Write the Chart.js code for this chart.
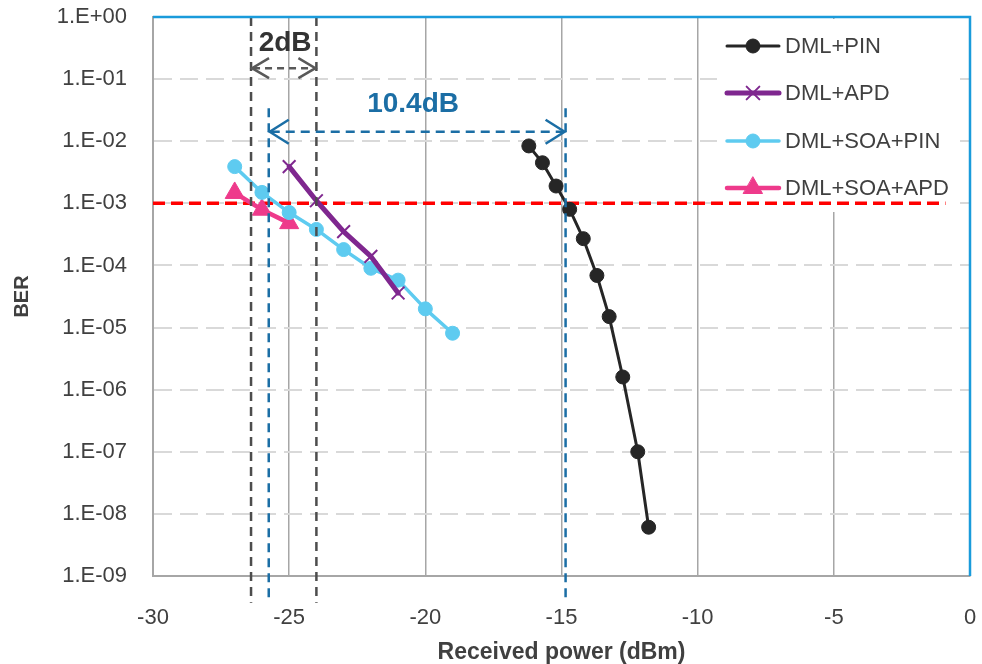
<!DOCTYPE html>
<html>
<head>
<meta charset="utf-8">
<script src="https://cdn.jsdelivr.net/npm/chart.js@4.4.1/dist/chart.umd.min.js"></script>
<style>
  html, body { margin: 0; padding: 0; background: #fff; }
  #wrap { width: 982px; height: 664px; }
</style>
</head>
<body>
<div id="wrap"><canvas id="berChart" width="982" height="664"></canvas></div>
<script>
'use strict';

// ─── Data ─────────────────────────────────────────────────────────────────────

const seriesNames = ['DML+PIN', 'DML+APD', 'DML+SOA+PIN', 'DML+SOA+APD'];

const pinX = [-16.2, -15.7, -15.2, -14.7, -14.2, -13.7, -13.25, -12.75, -12.2, -11.8];
const pinBer = [8.4e-3, 4.5e-3, 1.9e-3, 8.0e-4, 2.7e-4, 6.9e-5, 1.5e-5, 1.6e-6, 1.0e-7, 6.1e-9];

const apdX = [-25, -24, -23, -22, -21];
const apdBer = [3.9e-3, 1.1e-3, 3.5e-4, 1.4e-4, 3.6e-5];

const soaPinX = [-27, -26, -25, -24, -23, -22, -21, -20, -19];
const soaPinBer = [3.9e-3, 1.5e-3, 7.1e-4, 3.8e-4, 1.8e-4, 9.0e-5, 5.8e-5, 2.0e-5, 8.1e-6];

const soaApdX = [-27, -26, -25];
const soaApdBer = [1.47e-3, 7.9e-4, 4.8e-4];

// FEC threshold
const thresholdX = [-30, -0.9];
const thresholdBer = [1e-3, 1e-3];

// axis ticks
const xTicks = [-30, -25, -20, -15, -10, -5, 0];
const yTicks = [1e0, 1e-1, 1e-2, 1e-3, 1e-4, 1e-5, 1e-6, 1e-7, 1e-8, 1e-9];

// annotations (data coordinates)
const gapSmallX = [-26.4, -24.0];
const gapSmallY = [1e0, 3.7e-10];
const gapSmallArrowY = 0.15;
const gapSmallText = { label: '2dB', x: -25.15, y: 0.38 };

const gapLargeX = [-25.75, -14.85];
const gapLargeY = [3.4e-2, 3.7e-10];
const gapLargeArrowY = 0.0142;
const gapLargeText = { label: '10.4dB', x: -20.45, y: 0.04 };

// ─── Helpers ──────────────────────────────────────────────────────────────────

const FONT = "'Liberation Sans', Arial, sans-serif";
const TXT = '#404040';

const pts = (xs, ys) => xs.map((x, i) => ({ x, y: ys[i] }));

const expLabel = (v) => {
  const e = Math.round(Math.log10(v));
  const s = e < 0 ? '-' : '+';
  return `1.E${s}${String(Math.abs(e)).padStart(2, '0')}`;
};

function segment(ctx, x1, y1, x2, y2) {
  ctx.beginPath();
  ctx.moveTo(x1, y1);
  ctx.lineTo(x2, y2);
  ctx.stroke();
}

function chevron(ctx, x, y, dir, w, h) {
  ctx.setLineDash([]);
  ctx.beginPath();
  ctx.moveTo(x + dir * w, y - h);
  ctx.lineTo(x, y);
  ctx.lineTo(x + dir * w, y + h);
  ctx.stroke();
}

// no extra room for overflowing tick labels
const noPad = (s) => {
  s.paddingTop = 0;
  s.paddingBottom = 0;
  s.paddingLeft = 0;
  s.paddingRight = 0;
};

// ─── Plugins ──────────────────────────────────────────────────────────────────

const legendBox = {
  id: 'legendBox',
  beforeDatasetsDraw(chart) {
    const { ctx } = chart;
    ctx.save();
    ctx.fillStyle = '#fff';
    ctx.fillRect(717, 19, 238, 193);
    const rows = [46, 93, 141, 188];
    chart.data.datasets.slice(0, 4).forEach((ds, i) => {
      const y = rows[i];
      ctx.strokeStyle = ds.borderColor;
      ctx.lineWidth = ds.borderWidth;
      ctx.lineCap = 'round';
      ctx.setLineDash([]);
      segment(ctx, 727, y, 779, y);
      ctx.fillStyle = ds.pointBackgroundColor;
      ctx.strokeStyle = ds.pointBorderColor;
      ctx.lineWidth = ds.pointBorderWidth;
      Chart.helpers.drawPoint(ctx, {
        pointStyle: ds.pointStyle,
        radius: ds.pointRadius,
        borderWidth: ds.pointBorderWidth,
        rotation: 0,
      }, 753, y);
      ctx.fillStyle = TXT;
      ctx.font = `22px ${FONT}`;
      ctx.textAlign = 'left';
      ctx.textBaseline = 'middle';
      ctx.fillText(ds.label, 785, y + 1);
    });
    ctx.restore();
  },
};

const annotations = {
  id: 'annotations',
  afterDatasetsDraw(chart) {
    const { ctx, scales: { x, y }, chartArea } = chart;
    ctx.save();
    ctx.lineWidth = 2.5;

    // 2dB markers
    ctx.strokeStyle = '#4d4d4d';
    ctx.setLineDash([9, 6]);
    gapSmallX.forEach((v) => {
      const px = x.getPixelForValue(v);
      segment(ctx, px, y.getPixelForValue(gapSmallY[0]), px, y.getPixelForValue(gapSmallY[1]));
    });
    let ay = y.getPixelForValue(gapSmallArrowY);
    let ax1 = x.getPixelForValue(gapSmallX[0]);
    let ax2 = x.getPixelForValue(gapSmallX[1]);
    ctx.strokeStyle = '#595959';
    ctx.setLineDash([7, 5]);
    segment(ctx, ax1 + 2, ay, ax2 - 2, ay);
    chevron(ctx, ax1 + 1, ay, 1, 17, 10);
    chevron(ctx, ax2 - 1, ay, -1, 17, 10);

    // 10.4dB markers
    ctx.strokeStyle = '#1b6ea5';
    ctx.setLineDash([9, 6]);
    gapLargeX.forEach((v) => {
      const px = x.getPixelForValue(v);
      segment(ctx, px, y.getPixelForValue(gapLargeY[0]), px, y.getPixelForValue(gapLargeY[1]));
    });
    ay = y.getPixelForValue(gapLargeArrowY);
    ax1 = x.getPixelForValue(gapLargeX[0]);
    ax2 = x.getPixelForValue(gapLargeX[1]);
    ctx.setLineDash([9, 6]);
    segment(ctx, ax1 + 2, ay, ax2 - 2, ay);
    chevron(ctx, ax1 + 1, ay, 1, 19, 12);
    chevron(ctx, ax2 - 1, ay, -1, 19, 12);

    // labels
    ctx.font = `bold 28px ${FONT}`;
    ctx.textAlign = 'center';
    ctx.textBaseline = 'middle';
    ctx.fillStyle = '#333333';
    ctx.fillText(gapSmallText.label, x.getPixelForValue(gapSmallText.x), y.getPixelForValue(gapSmallText.y));
    ctx.fillStyle = '#1b6ea5';
    ctx.fillText(gapLargeText.label, x.getPixelForValue(gapLargeText.x), y.getPixelForValue(gapLargeText.y));

    // plot area frame: top & right in blue
    ctx.setLineDash([]);
    ctx.lineCap = 'butt';
    ctx.strokeStyle = '#1a9bdb';
    ctx.lineWidth = 2.5;
    ctx.beginPath();
    ctx.moveTo(chartArea.left, chartArea.top);
    ctx.lineTo(chartArea.right, chartArea.top);
    ctx.lineTo(chartArea.right, chartArea.bottom);
    ctx.stroke();
    ctx.restore();
  },
};

// ─── Chart ────────────────────────────────────────────────────────────────────

const lineStyle = (label, xs, ys, color, width, style, radius, pbw) => ({
  label,
  data: pts(xs, ys),
  borderColor: color,
  backgroundColor: color,
  borderWidth: width,
  pointStyle: style,
  pointRadius: radius,
  pointHoverRadius: radius,
  pointBackgroundColor: color,
  pointBorderColor: color,
  pointBorderWidth: pbw,
  borderJoinStyle: 'round',
  borderCapStyle: 'round',
  tension: 0,
});

const ctx = document.getElementById('berChart').getContext('2d');

new Chart(ctx, {
  type: 'line',
  data: {
    datasets: [
      lineStyle(seriesNames[0], pinX, pinBer, '#262626', 3, 'circle', 7, 1),
      lineStyle(seriesNames[1], apdX, apdBer, '#7f278f', 5, 'crossRot', 9, 2),
      lineStyle(seriesNames[2], soaPinX, soaPinBer, '#5ecbf0', 3.5, 'circle', 7, 1),
      lineStyle(seriesNames[3], soaApdX, soaApdBer, '#ee3a8b', 4.5, 'triangle', 11, 1),
      {
        label: 'threshold',
        data: pts(thresholdX, thresholdBer),
        borderColor: '#ff0000',
        borderWidth: 3.5,
        borderDash: [12, 6],
        pointRadius: 0,
        tension: 0,
      },
    ],
  },
  options: {
    responsive: false,
    animation: false,
    events: [],
    layout: { padding: { top: 17, right: 10, left: 0, bottom: 0 } },
    plugins: {
      legend: { display: false },
      tooltip: { enabled: false },
    },
    scales: {
      x: {
        type: 'linear',
        min: -30,
        max: 0,
        afterFit: (s) => { s.height = 88; noPad(s); },
        afterBuildTicks: (s) => { s.ticks = xTicks.map((v) => ({ value: v })); },
        grid: { color: '#a6a6a6', lineWidth: 1.5, drawTicks: false },
        border: { color: '#a6a6a6', width: 2 },
        ticks: {
          padding: 29,
          color: TXT,
          font: { family: FONT, size: 22 },
          callback: (v) => String(v),
        },
        title: {
          display: true,
          text: 'Received power (dBm)',
          color: TXT,
          font: { family: FONT, size: 23, weight: 'bold', lineHeight: 1 },
          padding: { top: 0, bottom: 0 },
        },
      },
      y: {
        type: 'logarithmic',
        min: 1e-9,
        max: 1e0,
        afterFit: (s) => { s.width = 153; noPad(s); },
        afterBuildTicks: (s) => { s.ticks = yTicks.map((v) => ({ value: v })); },
        grid: { color: '#d9d9d9', lineWidth: 2, drawTicks: false },
        border: { color: '#a6a6a6', width: 2, dash: [18, 8] },
        ticks: {
          padding: 26,
          color: TXT,
          font: { family: FONT, size: 22 },
          callback: (v) => expLabel(v),
        },
        title: {
          display: true,
          text: 'BER',
          color: TXT,
          font: { family: FONT, size: 20, weight: 'bold', lineHeight: 1 },
          padding: { top: 12, bottom: 0 },
        },
      },
    },
  },
  plugins: [legendBox, annotations],
});
</script>
</body>
</html>
